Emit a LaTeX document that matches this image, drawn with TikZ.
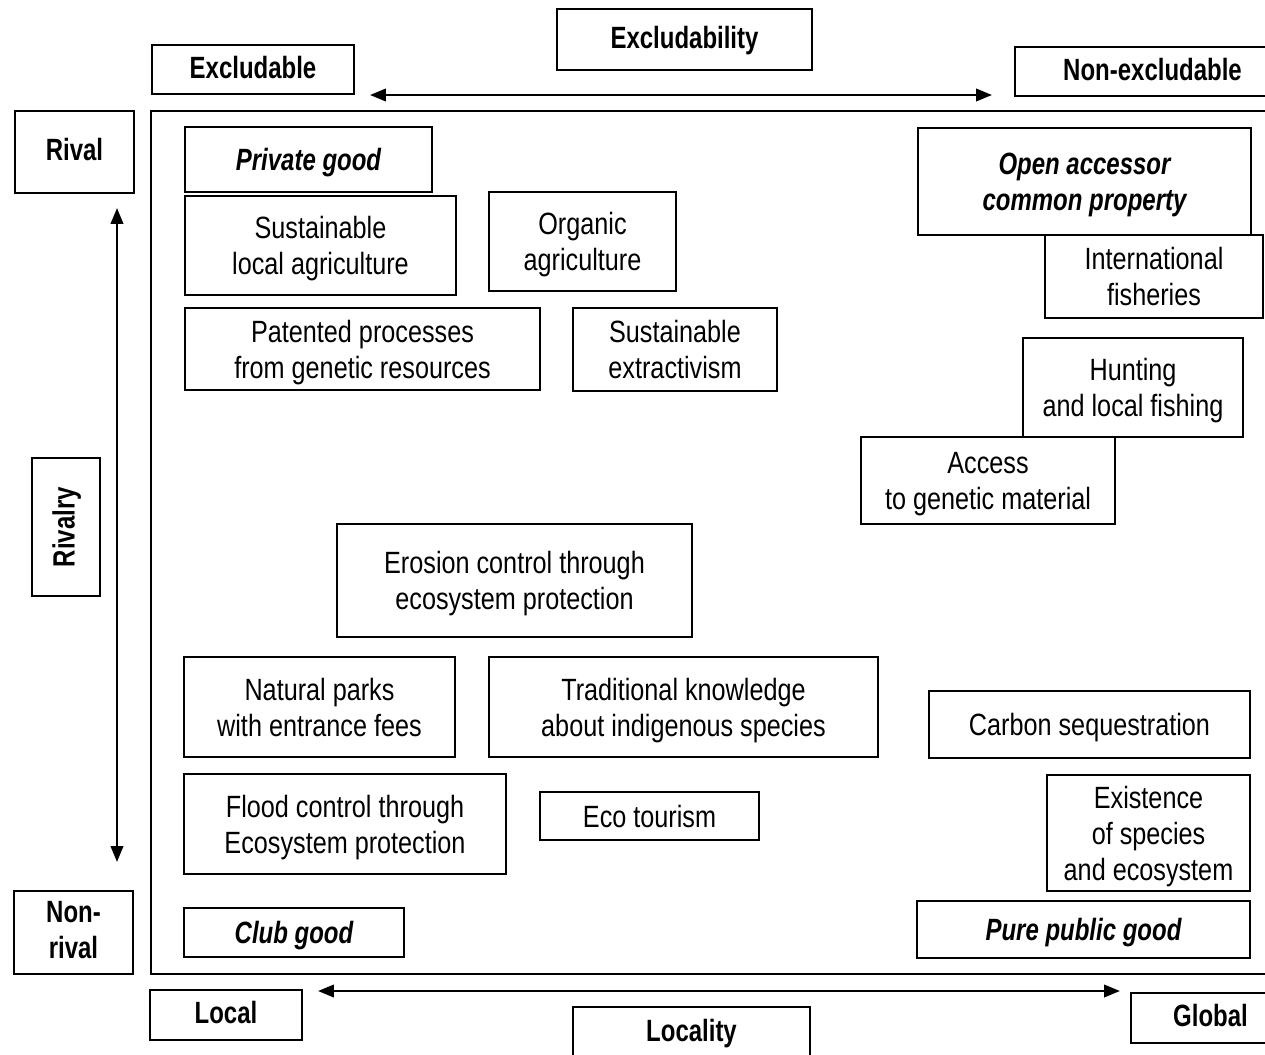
\documentclass[tikz,border=0pt]{standalone}
\usepackage{fontspec}
\setmainfont[FakeStretch=0.82]{Liberation Sans}
\newfontfamily\headfont[FakeStretch=0.78]{Liberation Sans}
\usetikzlibrary{arrows.meta}

\begin{document}
\begin{tikzpicture}[x=0.02cm, y=-0.02cm,
    box/.style={draw, line width=1.1pt, align=center, inner sep=0pt, text depth=0pt, font=\fontsize{17.5}{20.5}\selectfont},
    axis/.style={box, text depth=3pt, font=\fontsize{17.5}{20.5}\selectfont\headfont\bfseries},
    kind/.style={box, font=\fontsize{17.5}{20.5}\selectfont\headfont\bfseries\itshape},
    both/.style={{Triangle[length=9pt,width=7pt]}-{Triangle[length=9pt,width=7pt]}, line width=1.4pt}]

    \useasboundingbox (0,0) rectangle (1265,1055);

    % 外枠
    \draw[line width=1.1pt] (1290,111) -- (151,111) -- (151,974) -- (1290,974);

    % 軸のラベル
    \node[axis, minimum width=5.1cm, minimum height=1.22cm] (excl) at (684.5,39.5) {Excludability};
    \node[axis, minimum width=4.04cm, minimum height=0.98cm] (exyes) at (253,69.5) {Excludable};
    \node[axis, minimum width=5.5cm, minimum height=0.98cm] (exno) at (1152.5,71.5) {Non-excludable};
    \node[axis, minimum width=2.38cm, minimum height=1.64cm] (rival) at (74.5,152) {Rival};
    \node[axis, rotate=90, minimum width=2.76cm, minimum height=1.36cm] (rivalry) at (66,527) {Rivalry};
    \node[axis, minimum width=2.38cm, minimum height=1.66cm] (nonrival) at (73.5,932.5) {Non-\\rival};
    \node[axis, minimum width=3.04cm, minimum height=1.0cm] (local) at (226,1015) {Local};
    \node[axis, minimum width=4.74cm, minimum height=1.02cm] (locality) at (691.5,1032.5) {Locality};
    \node[axis, minimum width=3.18cm, minimum height=1.0cm] (global) at (1210.5,1018) {Global};

    % 矢印の端
    \coordinate (hl) at (370,95);
    \coordinate (hr) at (992,95);
    \coordinate (vt) at (117,208);
    \coordinate (vb) at (117,862);
    \coordinate (bl) at (318,991);
    \coordinate (br) at (1120,991);

    % 矢印を引く
    \draw[both] (hl) -- (hr);
    \draw[both] (vt) -- (vb);
    \draw[both] (bl) -- (br);

    % 財の種類
    \node[kind, minimum width=4.94cm, minimum height=1.30cm] (private) at (308.5,159.5) {Private good};
    \node[kind, minimum width=6.66cm, minimum height=2.14cm] (open) at (1084.5,181.5) {Open accessor\\common property};
    \node[kind, minimum width=4.40cm, minimum height=0.98cm] (club) at (294,932.5) {Club good};
    \node[kind, minimum width=6.66cm, minimum height=1.14cm] (public) at (1083.5,929.5) {Pure public good};

    % 例
    \node[box, minimum width=5.42cm, minimum height=1.98cm] (sustag) at (320.5,245.5) {Sustainable\\local agriculture};
    \node[box, minimum width=3.74cm, minimum height=1.98cm] (organic) at (582.5,241.5) {Organic\\agriculture};
    \node[box, minimum width=7.10cm, minimum height=1.64cm] (patent) at (362.5,349) {Patented processes\\from genetic resources};
    \node[box, minimum width=4.08cm, minimum height=1.66cm] (extract) at (675,349.5) {Sustainable\\extractivism};
    \node[box, minimum width=4.36cm, minimum height=1.66cm] (fisheries) at (1154,276.5) {International\\fisheries};
    \node[box, minimum width=4.40cm, minimum height=1.98cm] (hunting) at (1133,387.5) {Hunting\\and local fishing};
    \node[box, minimum width=5.08cm, minimum height=1.74cm] (access) at (988,480.5) {Access\\to genetic material};
    \node[box, minimum width=7.10cm, minimum height=2.26cm] (erosion) at (514.5,580.5) {Erosion control through\\ecosystem protection};
    \node[box, minimum width=5.42cm, minimum height=2.0cm] (parks) at (319.5,707) {Natural parks\\with entrance fees};
    \node[box, minimum width=7.78cm, minimum height=2.0cm] (tradition) at (683.5,707) {Traditional knowledge\\about indigenous species};
    \node[box, minimum width=6.42cm, minimum height=1.34cm] (carbon) at (1089.5,724.5) {Carbon sequestration};
    \node[box, minimum width=6.44cm, minimum height=2.0cm] (flood) at (345,824) {Flood control through\\Ecosystem protection};
    \node[box, minimum width=4.38cm, minimum height=0.96cm] (eco) at (649.5,816) {Eco tourism};
    \node[box, minimum width=4.06cm, minimum height=2.32cm] (exist) at (1148.5,833) {Existence\\of species\\and ecosystem};

\end{tikzpicture}
\end{document}
